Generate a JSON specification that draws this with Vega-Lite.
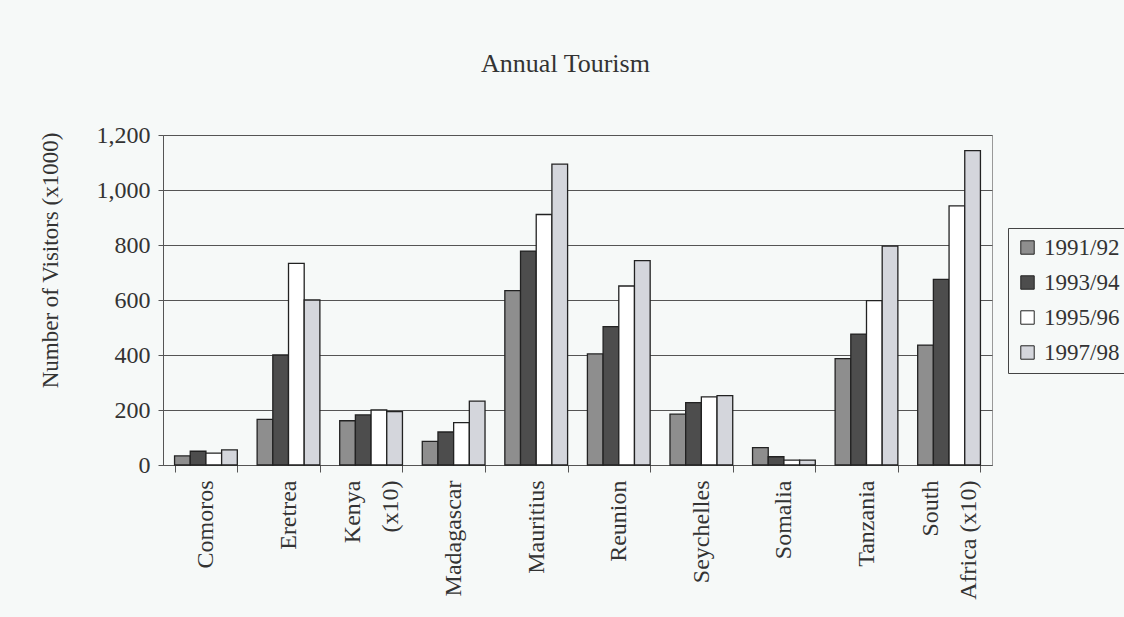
{
  "$schema": "https://vega.github.io/schema/vega-lite/v6.json",
  "width": 829,
  "height": 330,
  "autosize": {"type": "none"},
  "padding": {"left": 163, "top": 135, "right": 132, "bottom": 152},
  "background": "#f6f9f8",
  "config": {"view": {"stroke": "#999", "strokeWidth": 1}},
  "title": {"text": "Annual Tourism", "font": "Liberation Serif", "fontSize": 26, "fontWeight": "normal", "color": "#333", "offset": 46, "dx": -12},
  "data": {"values": [
    {"country": "Comoros", "period": "1991/92", "visitors": 33},
    {"country": "Comoros", "period": "1993/94", "visitors": 50},
    {"country": "Comoros", "period": "1995/96", "visitors": 43},
    {"country": "Comoros", "period": "1997/98", "visitors": 55},
    {"country": "Eretrea", "period": "1991/92", "visitors": 166},
    {"country": "Eretrea", "period": "1993/94", "visitors": 400},
    {"country": "Eretrea", "period": "1995/96", "visitors": 733},
    {"country": "Eretrea", "period": "1997/98", "visitors": 600},
    {"country": "Kenya (x10)", "period": "1991/92", "visitors": 161},
    {"country": "Kenya (x10)", "period": "1993/94", "visitors": 182},
    {"country": "Kenya (x10)", "period": "1995/96", "visitors": 200},
    {"country": "Kenya (x10)", "period": "1997/98", "visitors": 194},
    {"country": "Madagascar", "period": "1991/92", "visitors": 86},
    {"country": "Madagascar", "period": "1993/94", "visitors": 120},
    {"country": "Madagascar", "period": "1995/96", "visitors": 154},
    {"country": "Madagascar", "period": "1997/98", "visitors": 232},
    {"country": "Mauritius", "period": "1991/92", "visitors": 634},
    {"country": "Mauritius", "period": "1993/94", "visitors": 778},
    {"country": "Mauritius", "period": "1995/96", "visitors": 911},
    {"country": "Mauritius", "period": "1997/98", "visitors": 1094},
    {"country": "Reunion", "period": "1991/92", "visitors": 404},
    {"country": "Reunion", "period": "1993/94", "visitors": 503},
    {"country": "Reunion", "period": "1995/96", "visitors": 651},
    {"country": "Reunion", "period": "1997/98", "visitors": 743},
    {"country": "Seychelles", "period": "1991/92", "visitors": 185},
    {"country": "Seychelles", "period": "1993/94", "visitors": 227},
    {"country": "Seychelles", "period": "1995/96", "visitors": 248},
    {"country": "Seychelles", "period": "1997/98", "visitors": 252},
    {"country": "Somalia", "period": "1991/92", "visitors": 63},
    {"country": "Somalia", "period": "1993/94", "visitors": 30},
    {"country": "Somalia", "period": "1995/96", "visitors": 18},
    {"country": "Somalia", "period": "1997/98", "visitors": 18},
    {"country": "Tanzania", "period": "1991/92", "visitors": 387},
    {"country": "Tanzania", "period": "1993/94", "visitors": 476},
    {"country": "Tanzania", "period": "1995/96", "visitors": 598},
    {"country": "Tanzania", "period": "1997/98", "visitors": 796},
    {"country": "South Africa (x10)", "period": "1991/92", "visitors": 436},
    {"country": "South Africa (x10)", "period": "1993/94", "visitors": 675},
    {"country": "South Africa (x10)", "period": "1995/96", "visitors": 942},
    {"country": "South Africa (x10)", "period": "1997/98", "visitors": 1143}
  ]},
  "mark": {"type": "bar", "stroke": "#222", "strokeWidth": 1.3},
  "encoding": {
    "x": {
      "field": "country", "type": "nominal", "sort": null,
      "scale": {"paddingInner": 0.24, "paddingOuter": 0.14},
      "axis": {
        "title": null, "labelAngle": -90, "tickBand": "extent",
        "labelExpr": "datum.label == 'Kenya (x10)' ? ['Kenya', '(x10)'] : datum.label == 'South Africa (x10)' ? ['South', 'Africa (x10)'] : datum.label",
        "labelFont": "Liberation Serif", "labelFontSize": 24, "labelColor": "#333",
        "labelPadding": 8, "labelLineHeight": 38, "tickSize": 7, "tickColor": "#555", "domainColor": "#555",
        "labelBaseline": {"condition": {"test": "datum.value == 'Kenya (x10)' || datum.value == 'South Africa (x10)'", "value": "line-bottom"}, "value": "middle"}
      }
    },
    "xOffset": {"field": "period", "type": "nominal", "sort": null},
    "y": {
      "field": "visitors", "type": "quantitative",
      "scale": {"domain": [0, 1200]},
      "axis": {
        "values": [0, 200, 400, 600, 800, 1000, 1200], "format": ",d",
        "title": "Number of Visitors (x1000)",
        "titleFont": "Liberation Serif", "titleFontSize": 23, "titleFontWeight": "normal", "titleColor": "#333",
        "titleX": -113, "titleY": 125, "titleAngle": 270, "titleAlign": "center", "titleBaseline": "middle",
        "labelFont": "Liberation Serif", "labelFontSize": 24, "labelColor": "#333", "labelPadding": 8,
        "tickSize": 5, "tickColor": "#555", "domainColor": "#555", "grid": true, "gridColor": "#555"
      }
    },
    "fill": {
      "field": "period", "type": "nominal",
      "scale": {"domain": ["1991/92", "1993/94", "1995/96", "1997/98"], "range": ["#8e8e8e", "#4d4d4d", "#ffffff", "#d4d6dc"]},
      "legend": {
        "title": null, "orient": "none", "legendX": 845, "legendY": 93,
        "strokeColor": "#444", "padding": 8, "symbolType": "square", "symbolSize": 180,
        "symbolStrokeColor": "#222", "symbolStrokeWidth": 1, "labelFont": "Liberation Serif",
        "labelFontSize": 23, "labelColor": "#333", "rowPadding": 11, "labelOffset": 5
      }
    }
  }
}
